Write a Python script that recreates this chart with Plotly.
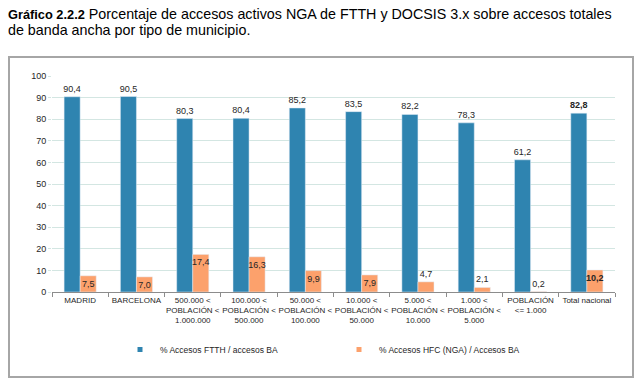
import plotly.graph_objects as go

categories = [
    "MADRID",
    "BARCELONA",
    "500.000 <\nPOBLACIÓN <\n1.000.000",
    "100.000 <\nPOBLACIÓN <\n500.000",
    "50.000 <\nPOBLACIÓN <\n100.000",
    "10.000 <\nPOBLACIÓN <\n50.000",
    "5.000 <\nPOBLACIÓN <\n10.000",
    "1.000 <\nPOBLACIÓN <\n5.000",
    "POBLACIÓN\n<= 1.000",
    "Total nacional",
]
ftth = [90.4, 90.5, 80.3, 80.4, 85.2, 83.5, 82.2, 78.3, 61.2, 82.8]
hfc = [7.5, 7.0, 17.4, 16.3, 9.9, 7.9, 4.7, 2.1, 0.2, 10.2]
series_names = ["% Accesos FTTH / accesos BA", "% Accesos HFC (NGA) / Accesos BA"]
yticks = [0, 10, 20, 30, 40, 50, 60, 70, 80, 90, 100]
title_bold = "Gráfico 2.2.2"
title_line1 = "Porcentaje de accesos activos NGA de FTTH y DOCSIS 3.x sobre accesos totales"
title_line2 = "de banda ancha por tipo de municipio."

FONT = "Liberation Sans, Arial, sans-serif"
BLUE = "#2f84b0"
ORANGE = "#fca16c"
TXT = "#262626"

labels = [c.replace("<", "&lt;").replace("\n", "<br>") for c in categories]

# plot-area geometry (pixels) used to place decorations in paper coords
L, R, T, B = 52, 28, 76, 88
PW, PH = 643 - L - R, 380 - T - B


def px_x(x):
    return (x - L) / PW


def px_y(y):
    return (380 - B - y) / PH


def fmt(vals):
    out = []
    for i, v in enumerate(vals):
        s = f"{v:.1f}".replace(".", ",")
        if i == len(vals) - 1:
            s = f"<b>{s}</b>"
        out.append(s)
    return out


fig = go.Figure()
fig.add_trace(go.Bar(
    x=labels, y=ftth, name=series_names[0], marker_color=BLUE,
    text=fmt(ftth), textposition="outside", cliponaxis=False, textangle=0,
    outsidetextfont=dict(family=FONT, size=9, color=TXT),
    showlegend=False, hoverinfo="x+y",
))
fig.add_trace(go.Bar(
    x=labels, y=hfc, name=series_names[1], marker_color=ORANGE,
    text=fmt(hfc), textangle=0,
    textposition=["inside" if v >= 7 else "outside" for v in hfc],
    insidetextanchor="end", constraintext="none", cliponaxis=False,
    insidetextfont=dict(family=FONT, size=9, color=TXT),
    outsidetextfont=dict(family=FONT, size=9, color=TXT),
    showlegend=False, hoverinfo="x+y",
))
# legend entries with small square markers
for name, col in zip(series_names, [BLUE, ORANGE]):
    fig.add_trace(go.Scatter(
        x=[None], y=[None], mode="markers", name=name,
        marker=dict(symbol="square", size=5, color=col),
    ))

fig.update_layout(
    width=643, height=380,
    margin=dict(l=L, r=R, t=T, b=B, autoexpand=False),
    paper_bgcolor="white", plot_bgcolor="white",
    font=dict(family=FONT, color=TXT),
    barmode="group", bargap=0.43, bargroupgap=0,
    uniformtext=dict(minsize=9, mode="show"),
    annotations=[
        dict(
            text=f"<span style='font-size:12.8px'><b>{title_bold}</b></span> {title_line1}",
            xref="paper", yref="paper", x=px_x(6), y=px_y(14),
            xanchor="left", yanchor="middle", align="left", showarrow=False,
            font=dict(family=FONT, size=14.3, color="#000000"),
        ),
        dict(
            text=title_line2,
            xref="paper", yref="paper", x=px_x(6), y=px_y(30),
            xanchor="left", yanchor="middle", align="left", showarrow=False,
            font=dict(family=FONT, size=14.3, color="#000000"),
        ),
    ],
    legend=dict(
        orientation="h", x=px_x(120), xanchor="left", y=px_y(335), yanchor="top",
        font=dict(family=FONT, size=8.5, color=TXT),
        entrywidth=174, entrywidthmode="pixels", itemwidth=30,
        bgcolor="rgba(0,0,0,0)",
    ),
    xaxis=dict(
        type="category", showline=True, linecolor="#8c8c8c", linewidth=1,
        ticks="outside", tickson="boundaries", ticklen=4, tickcolor="#8c8c8c",
        tickfont=dict(family=FONT, size=8, color=TXT), showgrid=False,
        tickangle=0, automargin=False,
    ),
    yaxis=dict(
        range=[0, 100], tickvals=yticks, showgrid=True, gridcolor="#d3e6e2",
        gridwidth=1, zeroline=False, showline=False,
        ticks="outside", ticklen=3, tickcolor="#d3e6e2",
        tickfont=dict(family=FONT, size=9, color=TXT), automargin=False,
    ),
    shapes=[dict(
        type="rect", xref="paper", yref="paper",
        x0=px_x(9), x1=px_x(633), y0=px_y(377), y1=px_y(57),
        line=dict(color="#a6a6a6", width=2), fillcolor="rgba(0,0,0,0)", layer="below",
    )],
)

fig.write_html(
    "out.html",
    config={"displayModeBar": False},
    post_script="document.body.style.margin='0';",
)
